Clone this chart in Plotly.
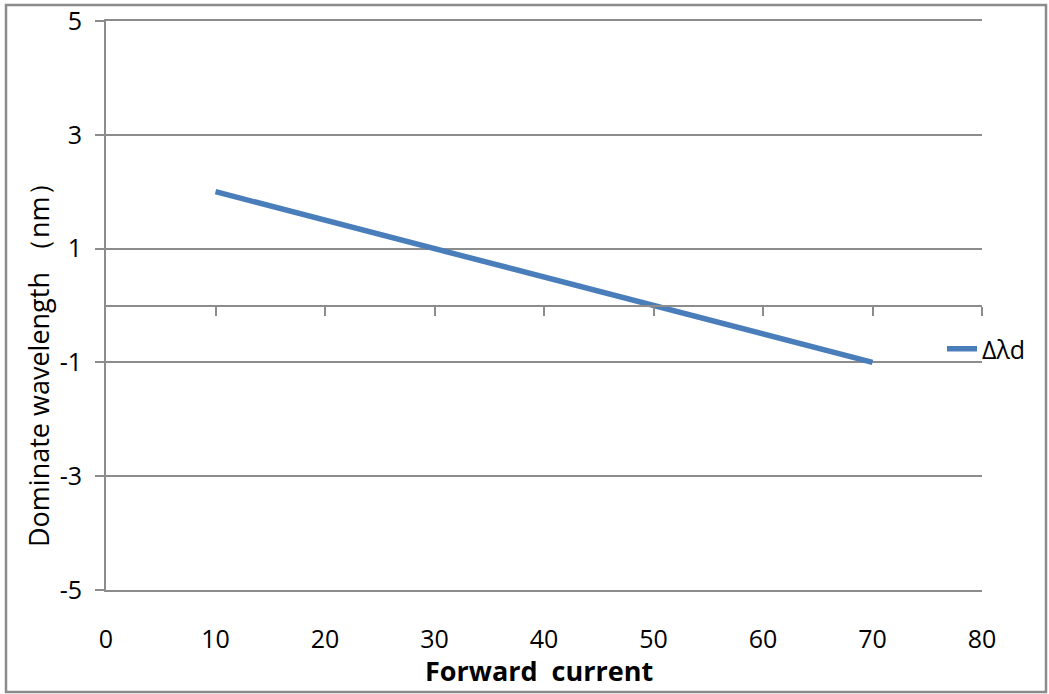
import plotly.graph_objects as go

# Data
forward_current = [10, 20, 30, 40, 50, 60, 70]
delta_lambda_d = [2.0, 1.5, 1.0, 0.5, 0.0, -0.5, -1.0]
series_name = "Δλd"
x_tick_vals = [0, 10, 20, 30, 40, 50, 60, 70, 80]
x_tick_text = ["0", "10", "20", "30", "40", "50", "60", "70", "80"]
y_tick_vals = [-5, -3, -1, 1, 3, 5]
y_tick_text = ["-5", "-3", "-1", "1", "3", "5"]
x_title = "Forward  current"
y_title = "Dominate wavelength （nm）"

W, H = 1049, 694
L, R, T, B = 106, 67, 21, 104
pw, ph = W - L - R, H - T - B

GRID = "#8c8c8c"
FONT = "Open Sans, Noto Sans, sans-serif"

def px_x(px):
    return (px - L) / pw

def px_y(py):
    return (H - B - py) / ph

fig = go.Figure()
fig.add_trace(go.Scatter(
    x=forward_current, y=delta_lambda_d, mode="lines", name=series_name,
    line=dict(color="#4a7ebb", width=5.5),
))
# helper (empty) trace so the zero-level axis is drawn
fig.add_trace(go.Scatter(x=[], y=[], xaxis="x2", yaxis="y", showlegend=False, hoverinfo="skip"))

fig.update_layout(
    width=W, height=H,
    margin=dict(l=L, r=R, t=T, b=B, autoexpand=False),
    paper_bgcolor="white", plot_bgcolor="white",
    font=dict(family=FONT, size=25, color="black"),
    showlegend=True,
    legend=dict(x=px_x(942), y=px_y(349), xanchor="left", yanchor="middle",
                bgcolor="rgba(0,0,0,0)", font=dict(size=25), borderwidth=0),
    xaxis=dict(
        range=[0, 80], tickvals=x_tick_vals, ticktext=x_tick_text, showgrid=False, zeroline=False,
        showline=True, mirror=True, linecolor=GRID, linewidth=2, ticks="",
        ticklabelstandoff=26, automargin=False,
        tickfont=dict(size=25),
    ),
    xaxis2=dict(
        range=[0, 80], tickvals=x_tick_vals[1:], overlaying="x", anchor="free", position=0.5,
        side="bottom", showline=True, linecolor=GRID, linewidth=2, ticks="outside",
        ticklen=9, tickwidth=2, tickcolor=GRID, showticklabels=False, showgrid=False, zeroline=False,
    ),
    yaxis=dict(
        range=[-5, 5], tickvals=y_tick_vals, ticktext=y_tick_text, showgrid=True, gridcolor=GRID, gridwidth=2,
        zeroline=False, showline=True, linecolor=GRID, linewidth=2,
        ticks="outside", ticklen=9, tickwidth=2, tickcolor=GRID, ticklabelstandoff=8,
        automargin=False, tickfont=dict(size=25),
    ),
)

# axis titles
fig.add_annotation(text=f"<b>{x_title}</b>", xref="paper", yref="paper",
                   x=px_x(539), y=px_y(670), showarrow=False,
                   font=dict(size=27), xanchor="center", yanchor="middle")
fig.add_annotation(text=y_title, xref="paper", yref="paper", textangle=-90,
                   x=px_x(38), y=px_y(358), showarrow=False,
                   font=dict(size=27), xanchor="center", yanchor="middle")

# outer chart border
fig.add_shape(type="rect", xref="paper", yref="paper",
              x0=px_x(6), x1=px_x(1046), y0=px_y(692), y1=px_y(5),
              line=dict(color="#8c8c8c", width=2.5), fillcolor="rgba(0,0,0,0)", layer="below")

post = ("document.body.style.margin='0';document.body.style.overflow='hidden';"
        "var g=document.getElementById('{plot_id}');g.style.position='absolute';"
        "g.style.left='0px';g.style.top='0px';")
fig.write_html("out.html", post_script=post, config={"displayModeBar": False})
